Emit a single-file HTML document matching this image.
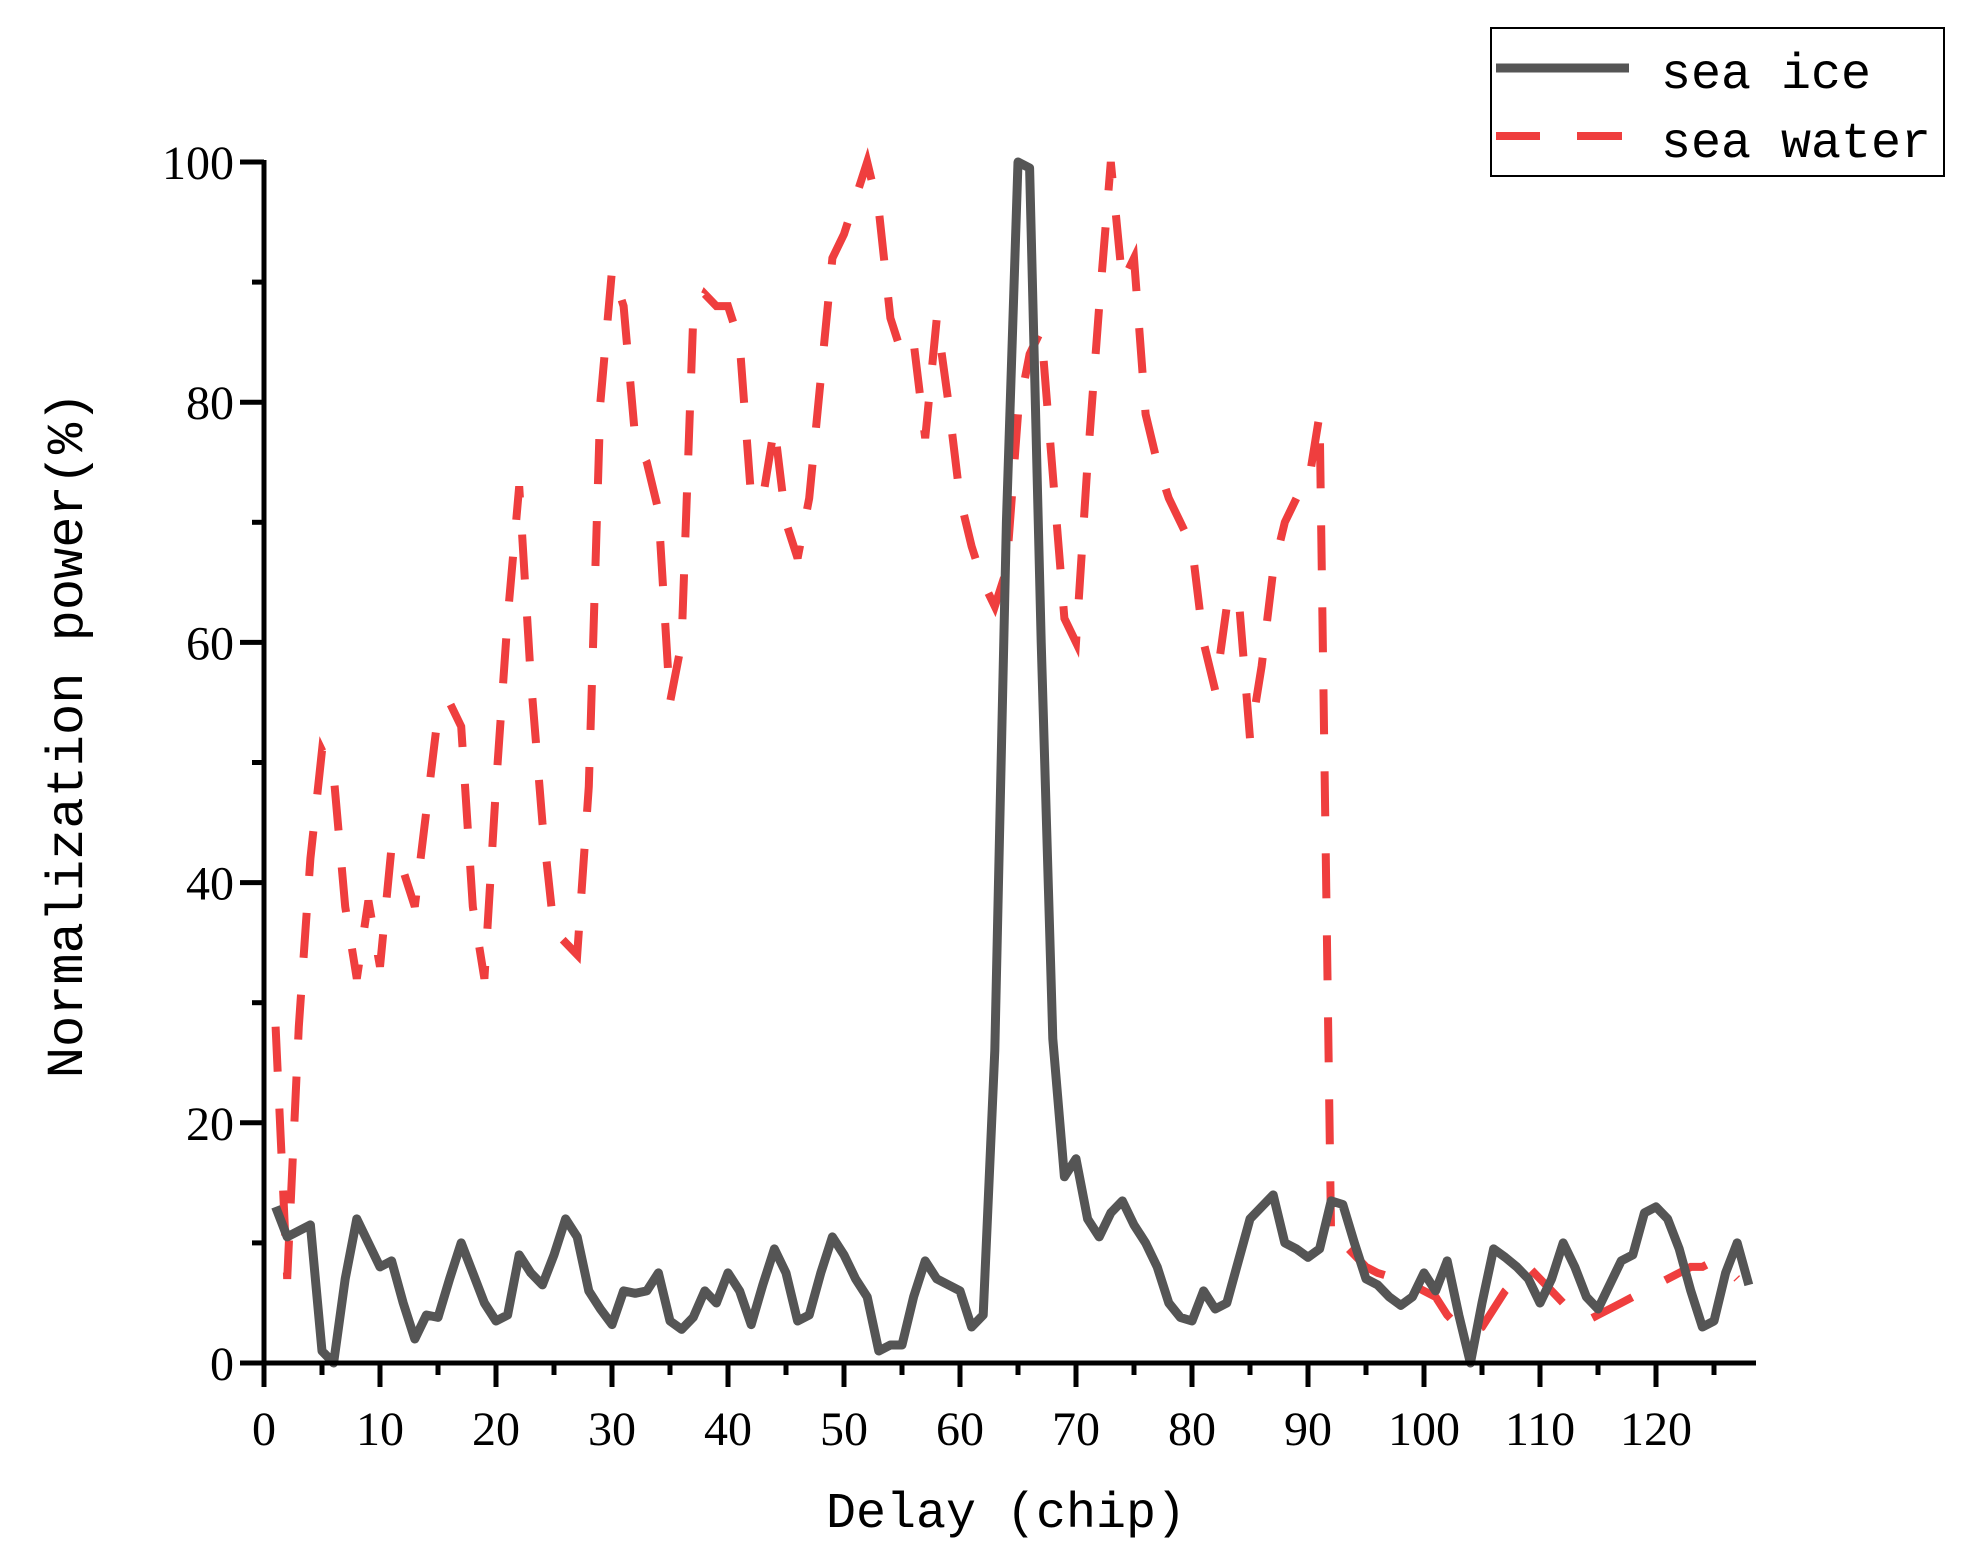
<!DOCTYPE html>
<html><head><meta charset="utf-8"><style>
html,body{margin:0;padding:0;background:#fff;}
svg{display:block;}
</style></head><body>
<svg id="s" width="1975" height="1566" xmlns="http://www.w3.org/2000/svg">
<rect x="0" y="0" width="1975" height="1566" fill="#fff"/>
<g id="ticks"></g>
<polyline id="water" fill="none" stroke="#ef3e3e" stroke-width="8" stroke-dasharray="45,37" stroke-linejoin="miter" points=""/>
<polyline id="ice" fill="none" stroke="#555555" stroke-width="9" stroke-linejoin="round" points=""/>
<line x1="264" y1="160" x2="264" y2="1365" stroke="#000" stroke-width="5"/>
<line x1="240" y1="1363" x2="1756" y2="1363" stroke="#000" stroke-width="5"/>
<g id="labels" font-family="'Liberation Serif',serif" font-size="48" fill="#000"></g>
<text x="1006" y="1527" font-family="'Liberation Mono',monospace" font-size="50" text-anchor="middle">Delay (chip)</text>
<text transform="translate(82,735) rotate(-90)" font-family="'Liberation Mono',monospace" font-size="52" text-anchor="middle">Normalization power(%)</text>
<rect x="1491" y="28" width="453" height="148" fill="#fff" stroke="#000" stroke-width="2"/>
<line x1="1496" y1="68" x2="1629" y2="68" stroke="#555" stroke-width="9"/>
<line x1="1496" y1="136" x2="1540" y2="136" stroke="#ef3e3e" stroke-width="8"/>
<line x1="1577" y1="136" x2="1622" y2="136" stroke="#ef3e3e" stroke-width="8"/>
<text x="1661" y="88" font-family="'Liberation Mono',monospace" font-size="50">sea ice</text>
<text x="1661" y="157" font-family="'Liberation Mono',monospace" font-size="50">sea water</text>
</svg>
<script>
var X=function(v){return 264+v*11.6;},Y=function(v){return 1363-v*12.01;};
var ice=[13,10.5,11,11.5,1,0,7,12,10,8,8.5,5,2,4,3.8,7,10,7.5,5,3.5,4,9,7.5,6.5,9,12,10.5,6,4.5,3.2,6,5.8,6,7.5,3.5,2.8,3.8,6,5,7.5,6,3.2,6.5,9.5,7.5,3.5,4,7.5,10.5,9,7,5.5,1,1.5,1.5,5.5,8.5,7,6.5,6,3,4,26,70,100,99.5,60,27,15.5,17,12,10.5,12.5,13.5,11.5,10,8,5,3.8,3.5,6,4.5,5,8.5,12,13,14,10,9.5,8.8,9.5,13.5,13.2,10,7,6.5,5.5,4.8,5.5,7.5,6,8.5,4,0,5,9.5,8.8,8,7,5,7,10,8,5.5,4.5,6.5,8.5,9,12.5,13,12,9.5,6,3,3.5,7.5,10,6.5];
var water=[28,7,28,42,51,49,38,32,38.5,33,43,41,38,46,54,55,53,38,32,48,62,73,57,45,36,35,34,48,80,91,88,77,75,71,55,60,87,89,88,88,85,72,72,78,70,67,72,82,92,94,97,100,96,87,84,85,77,87,80,72,68,65,63,66,79,84,86,74,62,60,75,88,100,90,92,79,75,72,70,68,60,56,63,64,52,58,66,70,72,73,79,10,10,9,8,7.5,7.2,7,6.5,6,5.5,4,3,2.5,3,4.5,6,7,8,7,6,5,4,3.5,4,4.5,5,5.5,6,6.5,7,7.5,8,8,8.5,8,7];
function pts(a){return a.map(function(v,i){return X(i+1).toFixed(1)+","+Y(v).toFixed(1);}).join(" ");}
document.getElementById("ice").setAttribute("points",pts(ice));
document.getElementById("water").setAttribute("points",pts(water));
var ns="http://www.w3.org/2000/svg",t=document.getElementById("ticks"),l=document.getElementById("labels");
function ln(x1,y1,x2,y2){var e=document.createElementNS(ns,"line");e.setAttribute("x1",x1);e.setAttribute("y1",y1);e.setAttribute("x2",x2);e.setAttribute("y2",y2);e.setAttribute("stroke","#000");e.setAttribute("stroke-width","5");t.appendChild(e);}
function tx(x,y,s,a){var e=document.createElementNS(ns,"text");e.setAttribute("x",x);e.setAttribute("y",y);e.setAttribute("text-anchor",a);e.textContent=s;l.appendChild(e);}
for(var v=0;v<=125;v+=5){var x=X(v);if(v%10==0){ln(x,1363,x,1387);tx(x,1445,String(v),"middle");}else ln(x,1363,x,1375);}
for(var v=0;v<=100;v+=10){var y=Y(v);if(v%20==0){ln(240,y,264,y);tx(234,y+17,String(v),"end");}else ln(252,y,264,y);}
</script>
</body></html>
